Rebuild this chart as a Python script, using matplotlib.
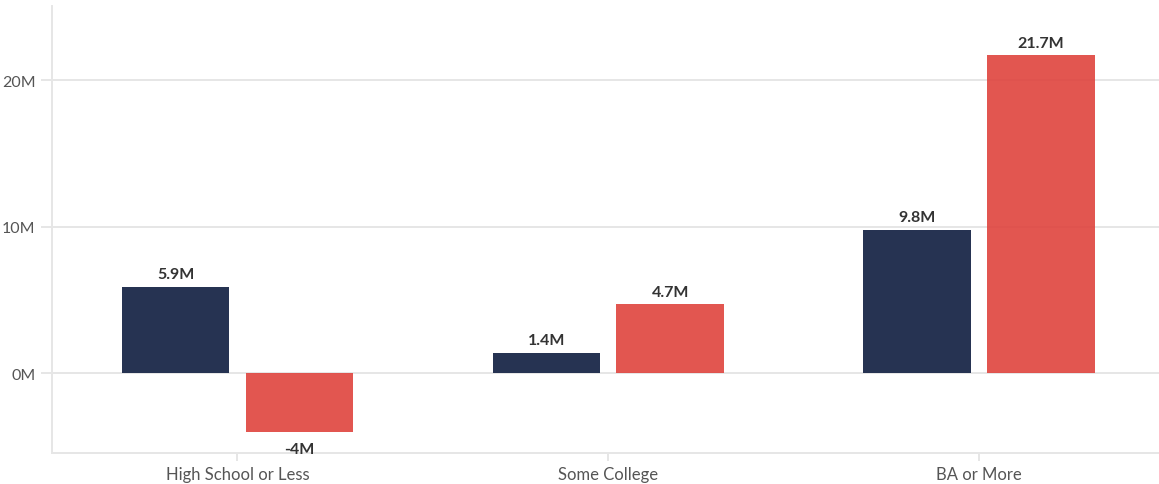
import matplotlib.pyplot as plt
import numpy as np

categories = ['High School or Less', 'Some College', 'BA or More']
series_a = [5.9, 1.4, 9.8]     # navy bars, millions
series_b = [-4.0, 4.7, 21.7]   # red bars, millions
labels_a = ['5.9M', '1.4M', '9.8M']
labels_b = ['-4M', '4.7M', '21.7M']
y_ticks = [0, 10, 20]
y_tick_labels = ['0M', '10M', '20M']

plt.rcParams['font.family'] = ['Lato', 'DejaVu Sans']

fig = plt.figure(figsize=(11.59, 4.85), dpi=100)
ax = fig.add_axes([52 / 1159, 31.5 / 485, 1 - 52 / 1159, 447 / 485])

x = np.arange(len(categories))
w = 0.29
off = 0.167
grid_c = '#e6e6e6'

ax.bar(x - off, series_a, width=w, color='#263352', zorder=2)
ax.bar(x + off, series_b, width=w, color='#df433d', alpha=0.9, zorder=2)

for xi, v, lab in zip(x - off, series_a, labels_a):
    ax.annotate(lab, (xi, v), xytext=(0, 4 if v >= 0 else -7), textcoords='offset points',
                ha='center', va='bottom' if v >= 0 else 'top',
                fontsize=11.5, fontweight='bold', color='#333333')
for xi, v, lab in zip(x + off, series_b, labels_b):
    ax.annotate(lab, (xi, v), xytext=(0, 4 if v >= 0 else -7), textcoords='offset points',
                ha='center', va='bottom' if v >= 0 else 'top',
                fontsize=11.5, fontweight='bold', color='#333333')

ax.set_xlim(-0.5, 2.485)
ax.set_ylim(-5.4, 25.1)
ax.set_xticks(x)
ax.set_xticklabels(categories)
ax.set_yticks(y_ticks)
ax.set_yticklabels(y_tick_labels)

ax.grid(axis='y', color=grid_c, linewidth=1.4, zorder=1)
ax.set_axisbelow(True)
for s in ['top', 'right']:
    ax.spines[s].set_visible(False)
for s in ['left', 'bottom']:
    ax.spines[s].set_color(grid_c)
    ax.spines[s].set_linewidth(1.4)
ax.tick_params(axis='both', colors=grid_c, width=1.4, labelcolor='#555555')
ax.tick_params(axis='x', length=6, pad=4, labelsize=12)
ax.tick_params(axis='y', length=8, pad=4, labelsize=11.5)

fig.savefig('out.png', dpi=100)
